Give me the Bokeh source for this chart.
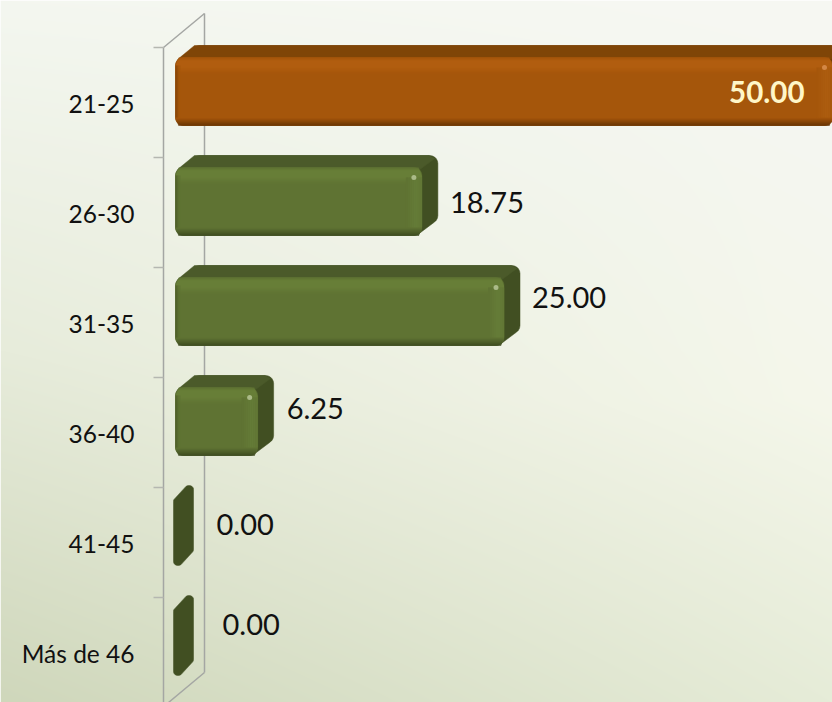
import numpy as np
from bokeh.plotting import figure
from bokeh.models import Range1d
from bokeh.core.properties import value
from bokeh.embed import file_html
from bokeh.resources import INLINE

categories = ["21-25", "26-30", "31-35", "36-40", "41-45", "Más de 46"]
values = [50.00, 18.75, 25.00, 6.25, 0.00, 0.00]
labels = ["50.00", "18.75", "25.00", "6.25", "0.00", "0.00"]
label_dx = [-28, 28, 28, 29, 41, 47]
label_dy = [0, 1, -14, -13, -7, -17]

W, H = 832, 702
X0, SX = 175.0, 13.14
Y0, SY = 91.0, 110.0
FONT = "Lato"

def dx(px):
    return (px - X0) / SX
def dy(px):
    return (px - Y0) / SY

p = figure(width=W, height=H, output_backend="svg", toolbar_location=None,
           x_range=Range1d(dx(0), dx(W)), y_range=Range1d(dy(H), dy(0)),
           min_border=0, outline_line_color=None, margin=(0, 0, 0, 0))
p.xaxis.visible = False
p.yaxis.visible = False
p.grid.visible = False

# background: sampled colours down the left and right edges of the page
gy, gx = np.mgrid[0:H, 0:W]
fx = gx / (W - 1.0)
left_y = [0, 350, 702]
left_c = ([244, 231, 207], [247, 236, 215], [240, 219, 187])
right_y = [0, 130, 400, 702]
right_c = ([247, 245, 245, 230], [248, 247, 247, 236], [243, 241, 235, 216])
img = np.zeros((H, W), dtype=np.uint32)
view = img.view(np.uint8).reshape(H, W, 4)
for ch in range(3):
    view[..., ch] = np.interp(gy, left_y, left_c[ch]) * (1 - fx) + np.interp(gy, right_y, right_c[ch]) * fx
view[..., 3] = 255
p.image_rgba(image=[img], x=dx(0), y=dy(0), dw=W / SX, dh=H / SY)

# walls
WALL = "#a4a6a3"
p.line([dx(163), dx(163)], [dy(47), dy(H)], line_color=WALL, line_width=1.5)
p.line([dx(204), dx(204)], [dy(13), dy(672)], line_color=WALL, line_width=1.5)
p.line([dx(163), dx(204)], [dy(47), dy(13)], line_color=WALL, line_width=1.5)
p.line([dx(204), dx(168)], [dy(672), dy(H)], line_color=WALL, line_width=1.5)
for i in range(6):
    yt = dy(47) + i
    p.line([dx(153), dx(163)], [yt, yt], line_color="#b5b7b1", line_width=1.5)

def rrect(x0, y0, x1, y1, r, n=6):
    pts = []
    for cx, cy, a0 in ((x1 - r, y0 + r, -90), (x1 - r, y1 - r, 0), (x0 + r, y1 - r, 90), (x0 + r, y0 + r, 180)):
        for a in np.radians(np.linspace(a0, a0 + 90, n)):
            pts.append((float(cx + r * np.cos(a)), float(cy + r * np.sin(a))))
    return pts

def hull(pts):
    pts = sorted(set(pts))
    def half(ps):
        out = []
        for q in ps:
            while len(out) > 1 and (out[-1][0]-out[-2][0])*(q[1]-out[-2][1]) - (out[-1][1]-out[-2][1])*(q[0]-out[-2][0]) <= 0:
                out.pop()
            out.append(q)
        return out[:-1]
    return half(pts) + half(pts[::-1])

def poly(pts, v_i, color):
    # pts: offsets in pixels from the row's zero point
    xs = [a / SX for a, b in pts]
    ys = [v_i + b / SY for a, b in pts]
    p.patch(xs, ys, fill_color=color, line_color=color, line_width=0.5)

ORANGE = dict(top="#7f4507", side="#6f3c06", main="#a5560b", hi="#b35f10", low="#663404", edge="#ad5d0f", spot="#e39a5e")
GREEN = dict(top="#4b5a2a", side="#414f22", main="#5f7333", hi="#698039", low="#3d4a20", edge="#657c37", spot="#c9d6ab")
DEPTH_X, DEPTH_Y = 16, -12
T, B = -34, 34

def mix(a, b, f):
    ca = [int(a[i:i+2], 16) for i in (1, 3, 5)]
    cb = [int(b[i:i+2], 16) for i in (1, 3, 5)]
    return "#%02x%02x%02x" % tuple(int(round(x + (y - x) * f)) for x, y in zip(ca, cb))

for i, v in enumerate(values):
    c = ORANGE if i == 0 else GREEN
    L = v * SX
    if L <= 14:
        front = rrect(-2, T, 7, B, 4)
        back = [(a + 11, b + DEPTH_Y) for a, b in front]
        poly(hull(front + back), i, c["side"])
        continue
    front = rrect(0, T, L, B, 8)
    back = [(a + DEPTH_X, b + DEPTH_Y) for a, b in front]
    poly(hull(front + back), i, c["side"])
    poly([(2, T + 2), (19, T + DEPTH_Y), (L + DEPTH_X - 9, T + DEPTH_Y), (L + DEPTH_X - 3, T + DEPTH_Y + 3), (L - 2, T + 2)], i, c["top"])
    poly(front, i, c["main"])
    # vertical shading of the front face
    for k in range(0, 68):
        if k < 3:
            col = mix(c["main"], c["hi"], k / 3)
        elif k < 9:
            col = c["hi"]
        elif k < 16:
            col = mix(c["hi"], c["main"], (k - 9) / 7)
        elif k < 60:
            continue
        else:
            col = mix(c["main"], c["low"], (k - 60) / 7)
        inset = 0.0 if 8 <= k <= 60 else (8 - k if k < 8 else k - 60) * 0.4
        p.quad(left=inset / SX, right=(L - inset) / SX, top=i + (T + k) / SY, bottom=i + (T + k + 1.3) / SY,
               fill_color=col, line_color=None)
    # lighter bevels at both ends
    for k in range(0, 8):
        f = 1 - abs(k - 4.5) / 4.5
        col = mix(c["main"], c["edge"], f)
        xa = (L - 16 + k * 2) / SX
        p.quad(left=xa, right=xa + 2.2 / SX, top=i + (T + 10) / SY, bottom=i + (B - 8) / SY,
               fill_color=col, line_color=None)
    for k in range(0, 5):
        col = mix(c["low"], c["main"], min(1, (k + 1) / 4))
        p.quad(left=k / SX, right=(k + 1.2) / SX, top=i + (T + 8) / SY, bottom=i + (B - 8) / SY,
               fill_color=col, line_color=None, fill_alpha=0.6)
    p.scatter([(L - 8) / SX], [i + (T + 10) / SY], size=5, marker="circle", fill_color=c["spot"], line_color=None, fill_alpha=0.7)

# category labels
p.text(x=[dx(134)] * 6, y=[dy(103 + 110 * i) for i in range(6)], text=categories,
       text_align="right", text_baseline="middle", text_color="#111111",
       text_font=value(FONT), text_font_size="24.5px")

# value labels
for i, v in enumerate(values):
    if i == 0:
        p.text(x=[v + label_dx[i] / SX], y=[i + label_dy[i] / SY], text=[labels[i]], text_align="right",
               text_baseline="middle", text_color="#fff6c8", text_font=value(FONT),
               text_font_size="29.5px", text_font_style="bold")
    else:
        p.text(x=[v + label_dx[i] / SX], y=[i + label_dy[i] / SY], text=[labels[i]], text_align="left",
               text_baseline="middle", text_color="#111111", text_font=value(FONT),
               text_font_size="29px")

open("out.html", "w").write(file_html(p, INLINE))
